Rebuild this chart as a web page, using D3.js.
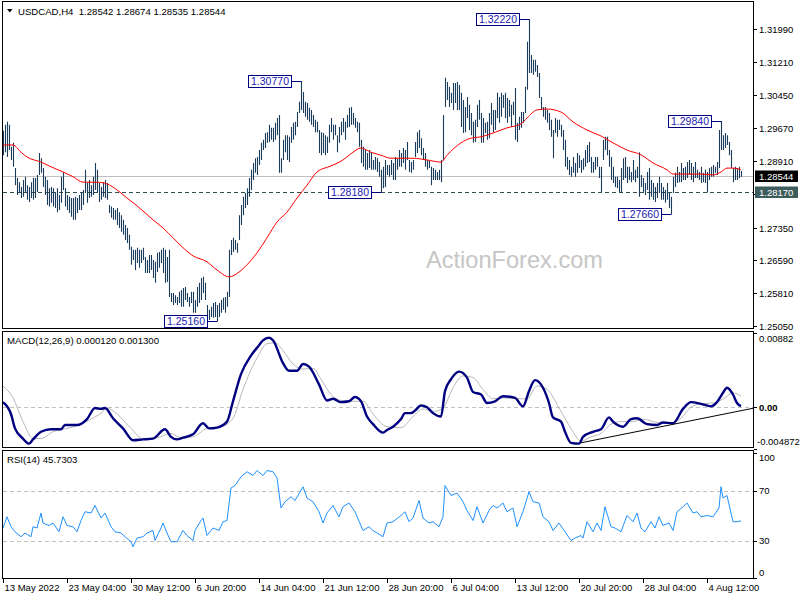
<!DOCTYPE html>
<html><head><meta charset="utf-8">
<script src="https://cdn.jsdelivr.net/npm/d3@7"></script>
<style>
body{margin:0;background:#fff}
svg{display:block}
text{font-family:"Liberation Sans",Arial,sans-serif}
</style>
</head><body>
<svg id="c" width="800" height="600"></svg>
<script>
// ---------- DATA ----------
const symbolTitle = "USDCAD,H4  1.28542 1.28674 1.28535 1.28544";
const macdTitle = "MACD(12,26,9) 0.000120 0.001300";
const rsiTitle = "RSI(14) 45.7303";
const watermark = "ActionForex.com";

const highs = [
1.2961,1.2975,1.2982,1.2975,1.2924,1.2933,1.2874,1.2851,1.2841,1.2830,
1.2846,1.2854,1.2834,1.2830,1.2841,1.2851,1.2851,1.2858,1.2909,1.2897,
1.2874,1.2854,1.2846,1.2827,1.2830,1.2827,1.2816,1.2827,1.2811,1.2854,
1.2865,1.2827,1.2811,1.2807,1.2804,1.2804,1.2807,1.2804,1.2811,1.2816,
1.2823,1.2870,1.2839,1.2846,1.2834,1.2854,1.2886,1.2870,1.2839,1.2830,
1.2841,1.2846,1.2839,1.2788,1.2784,1.2781,1.2776,1.2781,1.2771,1.2764,
1.2753,1.2741,1.2734,1.2718,1.2690,1.2683,1.2683,1.2688,1.2683,1.2683,
1.2688,1.2666,1.2659,1.2671,1.2671,1.2659,1.2655,1.2676,1.2678,1.2683,
1.2688,1.2683,1.2666,1.2683,1.2582,1.2582,1.2577,1.2573,1.2585,1.2589,
1.2594,1.2596,1.2582,1.2573,1.2585,1.2585,1.2566,1.2596,1.2606,1.2617,
1.2620,1.2606,1.2554,1.2543,1.2550,1.2559,1.2561,1.2554,1.2559,1.2566,
1.2571,1.2573,1.2585,1.2683,1.2706,1.2711,1.2706,1.2699,1.2764,1.2788,
1.2807,1.2816,1.2827,1.2851,1.2870,1.2886,1.2897,1.2900,1.2916,1.2933,
1.2940,1.2956,1.2958,1.2975,1.2968,1.2968,1.2980,1.2991,1.2998,1.2897,
1.2940,1.2951,1.2951,1.2947,1.2970,1.2980,1.2982,1.3005,1.3029,1.3077,
1.3052,1.3029,1.3026,1.3015,1.3010,1.2998,1.2987,1.2982,1.2963,1.2958,
1.2956,1.2951,1.2947,1.2975,1.2991,1.2975,1.2975,1.2951,1.2970,1.2982,
1.2991,1.2982,1.2998,1.3015,1.3017,1.3003,1.2991,1.2982,1.2980,1.2940,
1.2924,1.2916,1.2909,1.2916,1.2911,1.2893,1.2900,1.2897,1.2888,1.2870,
1.2877,1.2893,1.2881,1.2881,1.2893,1.2886,1.2900,1.2897,1.2916,1.2909,
1.2921,1.2916,1.2935,1.2893,1.2888,1.2893,1.2935,1.2958,1.2963,1.2944,
1.2921,1.2909,1.2893,1.2893,1.2877,1.2874,1.2870,1.2865,1.2870,1.2893,
1.2998,1.3085,1.3075,1.3064,1.3050,1.3073,1.3073,1.3075,1.3068,1.3050,
1.3033,1.3017,1.3040,1.3022,1.3003,1.2982,1.2987,1.3022,1.3033,1.3003,
1.2991,1.2980,1.2982,1.3003,1.3026,1.3010,1.3010,1.3050,1.3040,1.3050,
1.3045,1.3050,1.3038,1.3033,1.3022,1.3029,1.3061,1.2980,1.2994,1.3005,
1.3005,1.3064,1.3169,1.3222,1.3138,1.3127,1.3127,1.3115,1.3096,1.3040,
1.3017,1.3017,1.3010,1.3003,1.2987,1.2963,1.2991,1.2987,1.2987,1.2975,
1.2963,1.2940,1.2900,1.2893,1.2877,1.2900,1.2886,1.2909,1.2904,1.2893,
1.2897,1.2916,1.2928,1.2935,1.2900,1.2888,1.2900,1.2900,1.2877,1.2877,
1.2940,1.2947,1.2947,1.2916,1.2900,1.2877,1.2854,1.2854,1.2846,1.2874,
1.2897,1.2900,1.2877,1.2877,1.2865,1.2893,1.2870,1.2877,1.2911,1.2858,
1.2851,1.2839,1.2865,1.2874,1.2846,1.2839,1.2830,1.2839,1.2854,1.2839,
1.2830,1.2823,1.2839,1.2816,1.2807,1.2854,1.2863,1.2877,1.2865,1.2886,
1.2874,1.2877,1.2888,1.2893,1.2886,1.2877,1.2888,1.2870,1.2865,1.2877,
1.2863,1.2870,1.2865,1.2874,1.2877,1.2881,1.2877,1.2888,1.2963,1.2984,
1.2951,1.2956,1.2951,1.2935,1.2916,1.2874,1.2877,1.2874,1.2877,1.28674];

const lows = [
1.2904,1.2911,1.2900,1.2916,1.2893,1.2877,1.2834,1.2811,1.2816,1.2804,
1.2807,1.2818,1.2800,1.2795,1.2804,1.2800,1.2804,1.2818,1.2858,1.2863,
1.2830,1.2811,1.2788,1.2784,1.2793,1.2784,1.2781,1.2771,1.2776,1.2793,
1.2823,1.2784,1.2776,1.2769,1.2760,1.2753,1.2753,1.2769,1.2776,1.2776,
1.2788,1.2816,1.2793,1.2804,1.2807,1.2811,1.2823,1.2818,1.2795,1.2800,
1.2807,1.2804,1.2800,1.2769,1.2758,1.2753,1.2753,1.2741,1.2734,1.2725,
1.2718,1.2706,1.2699,1.2683,1.2648,1.2659,1.2636,1.2652,1.2641,1.2652,
1.2659,1.2629,1.2629,1.2629,1.2636,1.2617,1.2606,1.2631,1.2641,1.2652,
1.2629,1.2606,1.2608,1.2573,1.2561,1.2554,1.2559,1.2554,1.2559,1.2550,
1.2550,1.2566,1.2561,1.2550,1.2559,1.2536,1.2536,1.2550,1.2559,1.2566,
1.2582,1.2566,1.2524,1.2519,1.2526,1.2524,1.2526,1.2516,1.2526,1.2536,
1.2543,1.2536,1.2550,1.2573,1.2671,1.2678,1.2683,1.2676,1.2706,1.2741,
1.2764,1.2781,1.2788,1.2807,1.2823,1.2846,1.2863,1.2858,1.2881,1.2893,
1.2916,1.2921,1.2933,1.2935,1.2940,1.2935,1.2940,1.2951,1.2863,1.2863,
1.2893,1.2911,1.2893,1.2888,1.2933,1.2940,1.2951,1.2970,1.3003,1.3010,
1.3003,1.2994,1.2987,1.2982,1.2975,1.2970,1.2958,1.2958,1.2909,1.2904,
1.2909,1.2904,1.2909,1.2933,1.2958,1.2940,1.2951,1.2911,1.2933,1.2951,
1.2958,1.2940,1.2968,1.2970,1.2975,1.2975,1.2968,1.2958,1.2924,1.2886,
1.2877,1.2870,1.2870,1.2874,1.2870,1.2870,1.2870,1.2865,1.2854,1.2818,
1.2827,1.2830,1.2858,1.2854,1.2858,1.2846,1.2846,1.2870,1.2877,1.2877,
1.2886,1.2870,1.2893,1.2865,1.2863,1.2870,1.2900,1.2909,1.2921,1.2904,
1.2893,1.2877,1.2870,1.2874,1.2834,1.2846,1.2846,1.2846,1.2846,1.2841,
1.2893,1.3017,1.3033,1.3017,1.3026,1.3010,1.3026,1.3010,1.3010,1.2970,
1.2956,1.2958,1.2991,1.2963,1.2951,1.2933,1.2935,1.2970,1.2987,1.2933,
1.2933,1.2956,1.2940,1.2944,1.2975,1.2958,1.2963,1.2991,1.2980,1.2994,
1.3015,1.2991,1.2980,1.2994,1.2970,1.2998,1.2940,1.2935,1.2963,1.2968,
1.2980,1.3003,1.3057,1.3096,1.3096,1.3092,1.3099,1.3087,1.3038,1.3010,
1.2994,1.2987,1.2980,1.2963,1.2947,1.2897,1.2956,1.2947,1.2963,1.2947,
1.2916,1.2877,1.2870,1.2858,1.2854,1.2863,1.2854,1.2863,1.2874,1.2863,
1.2870,1.2877,1.2886,1.2888,1.2863,1.2863,1.2870,1.2877,1.2851,1.2818,
1.2893,1.2916,1.2904,1.2877,1.2846,1.2839,1.2830,1.2827,1.2818,1.2816,
1.2846,1.2851,1.2839,1.2846,1.2841,1.2846,1.2841,1.2851,1.2807,1.2830,
1.2818,1.2811,1.2823,1.2800,1.2807,1.2800,1.2795,1.2804,1.2816,1.2800,
1.2800,1.2793,1.2800,1.2781,1.2766,1.2816,1.2830,1.2839,1.2841,1.2841,
1.2846,1.2846,1.2851,1.2858,1.2846,1.2841,1.2851,1.2851,1.2846,1.2839,
1.2841,1.2839,1.2817,1.2846,1.2854,1.2854,1.2863,1.2858,1.2874,1.2916,
1.2916,1.2921,1.2928,1.2904,1.2874,1.2841,1.2846,1.2846,1.2851,1.28535];

// moving average (red), sampled at bar indices
const maIdx = [0,5,9,12,19,24,30,35,40,47,52,57,62,67,75,80,85,90,95,102,107,113,118,122,127,132,137,142,147,152,157,164,170,175,179,184,189,194,199,205,212,219,222,229,234,239,245,252,259,262,267,272,279,285,292,299,305,312,319,325,332,335,342,349,355,359,362,365,369];
const maVal = [1.2928,1.2928,1.2911,1.2900,1.2888,1.2877,1.2865,1.2854,1.2841,1.2841,1.2837,1.2823,1.2804,1.2786,1.2753,1.2734,1.2711,1.2688,1.2669,1.2655,1.2636,1.2620,1.2631,1.2648,1.2676,1.2711,1.2748,1.2771,1.2804,1.2834,1.2865,1.2879,1.2893,1.2911,1.2921,1.2911,1.2904,1.2897,1.2897,1.2897,1.2893,1.2888,1.2904,1.2933,1.2944,1.2947,1.2956,1.2968,1.2977,1.2991,1.3010,1.3012,1.3005,1.2982,1.2963,1.2949,1.2933,1.2916,1.2905,1.2886,1.2870,1.2860,1.2860,1.2860,1.2858,1.2865,1.2874,1.2874,1.2870];

// MACD main line
const macdIdx = [0,4,6,10,13,15,19,24,29,31,37,42,46,49,51,55,60,65,70,75,81,84,87,90,95,100,103,107,112,115,119,124,128,130,133,135,140,143,147,150,153,158,162,165,169,173,176,179,182,185,190,192,195,199,201,204,206,209,212,215,219,221,224,228,232,235,239,242,246,250,256,260,263,266,270,273,275,279,281,284,288,290,295,299,303,305,310,314,317,322,327,330,335,340,344,349,354,357,360,362,365,367,369];
const macdVal = [0.0006,-0.0008,-0.0025,-0.0037,-0.0043,-0.0038,-0.0029,-0.0026,-0.0026,-0.0021,-0.0021,-0.0014,-0.0001,-0.0002,-0.0001,-0.0013,-0.0025,-0.0039,-0.0038,-0.0037,-0.0026,-0.0035,-0.0038,-0.0036,-0.0032,-0.0019,-0.0025,-0.0024,-0.0017,0.0007,0.0039,0.0061,0.0073,0.0079,0.0082,0.0079,0.0052,0.0043,0.0043,0.0051,0.0048,0.0027,0.0008,0.0010,0.0006,0.0007,0.0012,0.0007,-0.0011,-0.0020,-0.0030,-0.0027,-0.0023,-0.0014,-0.0007,-0.0007,-0.0004,0.0002,0.0000,-0.0007,-0.0011,0.0019,0.0033,0.0042,0.0035,0.0018,0.0015,0.0005,0.0007,0.0013,0.0011,0.0001,0.0019,0.0032,0.0023,0.0005,-0.0012,-0.0017,-0.0029,-0.0042,-0.0043,-0.0035,-0.0029,-0.0026,-0.0012,-0.0017,-0.0023,-0.0014,-0.0013,-0.0020,-0.0021,-0.0018,-0.0019,-0.0002,0.0006,0.0004,0.0001,0.0006,0.0017,0.0023,0.0015,0.0005,0.00012];
// MACD signal line
const sigIdx = [0,5,10,15,19,25,32,38,44,49,52,57,64,70,77,84,89,95,102,109,115,120,127,132,136,140,145,150,155,159,164,169,175,180,185,192,199,205,210,215,220,225,230,235,240,245,250,257,262,267,272,279,284,289,294,299,304,309,315,320,327,334,339,344,349,355,361,365,369];
const sigVal = [0.0025,0.0011,-0.0017,-0.0037,-0.0037,-0.0029,-0.0025,-0.0021,-0.0014,-0.0007,-0.0001,-0.0008,-0.0025,-0.0037,-0.0036,-0.0031,-0.0036,-0.0035,-0.0025,-0.0023,-0.0013,0.0021,0.0058,0.0075,0.0076,0.0067,0.0051,0.0045,0.0046,0.0033,0.0015,0.0008,0.0007,0.0007,-0.0008,-0.0023,-0.0024,-0.0011,-0.0002,-0.0005,-0.0001,0.0023,0.0037,0.0035,0.0021,0.0010,0.0011,0.0010,0.0010,0.0025,0.0021,-0.0005,-0.0025,-0.0040,-0.0035,-0.0031,-0.0020,-0.0017,-0.0017,-0.0014,-0.0018,-0.0019,-0.0013,0.0000,0.0004,0.0005,0.0011,0.0017,0.0013];
// MACD trend line (drawn object)
const trendIdx = [289,375.5];
const trendVal = [-0.0042,-0.0001];

// RSI(14)
const rsiIdx = [0,2,4,6,9,11,14,15,17,19,20,23,25,28,30,32,35,37,39,41,44,46,49,51,54,56,59,61,64,65,67,70,72,75,76,79,80,82,84,87,90,92,95,96,99,100,102,105,108,110,112,114,116,119,122,125,127,130,132,135,137,139,141,144,146,150,152,155,158,160,162,165,168,170,173,176,180,183,185,190,192,195,199,201,203,205,208,210,213,215,218,220,221,224,227,230,232,235,237,240,243,245,247,250,252,255,257,260,263,265,268,270,273,275,278,281,284,286,289,290,292,295,297,299,301,304,306,309,312,315,317,319,321,324,326,328,330,333,335,337,340,342,345,347,349,352,355,358,359,360,362,365,367,369];
const rsiVal = [40,49,41,37,33,36,33,41,40,52,44,42,44,37,49,42,41,37,46,53,52,58,48,52,41,37,36,33,29,25,32,33,36,38,30,40,44,36,29,29,38,34,30,38,46,48,34,40,38,45,46,72,74,81,85,82,86,82,86,85,80,56,61,65,62,73,64,61,53,44,52,58,49,57,60,53,38,41,38,33,44,45,50,53,45,48,62,48,44,45,41,49,74,66,68,61,54,46,57,44,54,58,56,60,53,56,41,53,69,61,60,49,45,38,44,37,30,32,34,32,45,37,44,38,57,41,40,37,50,45,52,40,37,45,40,49,42,44,38,53,57,60,52,53,49,50,49,56,73,64,66,45,45,45.73];

// axis ticks
const priceTicks = [1.25050,1.25810,1.26590,1.27350,1.28130,1.28910,1.29670,1.30450,1.31210,1.31990];
const macdTickVals = [0.00882,0,-0.004872];
const macdTickLabels = ["0.00882","0.00","-0.004872"];
const rsiTickVals = [100,70,30,0];
const rsiLevels = [70,30];
const timeIdx = [0,32,64,96,128,160,192,224,256,288,320,352];
const timeLabels = ["13 May 2022","23 May 04:00","30 May 12:00","6 Jun 20:00","14 Jun 04:00","21 Jun 12:00","28 Jun 20:00","6 Jul 04:00","13 Jul 12:00","20 Jul 20:00","28 Jul 04:00","4 Aug 12:00"];

// swing high/low annotations
const annIdx = [149,107,263,189,334,359];
const annPrice = [1.30770,1.25160,1.32220,1.28180,1.27660,1.29840];

const lastPrice = 1.28544;
const supportLevel = 1.28170;

// ---------- DRAW ----------
const svg = d3.select("#c");
const nBars = highs.length;
const x = d3.scaleLinear().domain([0, 369]).range([3, 741]);
const yP = d3.scaleLinear().domain([1.2505, 1.3199]).range([326, 29]);
const yM = d3.scaleLinear().domain([-0.004872, 0.00882]).range([448.5, 332.5]);
const yR = d3.scaleLinear().domain([0, 100]).range([578, 453]);

const panels = [
  {id:"pP", y:1.5, h:327},
  {id:"pM", y:331.5, h:116},
  {id:"pR", y:450.5, h:128}
];
const defs = svg.append("defs");
panels.forEach(p => {
  defs.append("clipPath").attr("id", p.id)
    .append("rect").attr("x", 3).attr("y", p.y + 0.5).attr("width", 750).attr("height", p.h - 0.5);
});

svg.append("rect").attr("width", 800).attr("height", 600).attr("fill", "#fff");

// ---- price panel ----
const gP = svg.append("g").attr("clip-path", "url(#pP)");

gP.append("line").attr("x1", 3).attr("x2", 753)
  .attr("y1", Math.round(yP(lastPrice)) + 0.5).attr("y2", Math.round(yP(lastPrice)) + 0.5)
  .attr("stroke", "#c0c0c0").attr("stroke-width", 1);
gP.append("line").attr("x1", 3).attr("x2", 753)
  .attr("y1", Math.round(yP(supportLevel)) + 0.5).attr("y2", Math.round(yP(supportLevel)) + 0.5)
  .attr("stroke", "#2f4f4f").attr("stroke-width", 1).attr("stroke-dasharray", "4,3");

gP.append("g").selectAll("line").data(d3.range(nBars)).join("line")
  .attr("x1", i => x(i) + 0.5).attr("x2", i => x(i) + 0.5)
  .attr("y1", i => yP(highs[i])).attr("y2", i => yP(lows[i]))
  .attr("stroke", "#1b3d5b").attr("stroke-width", 1.1);

const maLine = d3.line().x((d, k) => x(maIdx[k])).y(d => yP(d)).curve(d3.curveMonotoneX);
gP.append("path").attr("d", maLine(maVal)).attr("fill", "none").attr("stroke", "#ff0000").attr("stroke-width", 1);

svg.append("text").attr("x", 514.5).attr("y", 268).attr("text-anchor", "middle")
  .attr("font-size", "23.6px").attr("fill", "#c6c6c6").text(watermark);

const fmt5 = d3.format(".5f");
const gA = svg.append("g");
annIdx.forEach((idx, k) => {
  const bx = x(idx) + 0.5;
  const by = Math.round(yP(annPrice[k])) + 0.5;
  gA.append("line").attr("x1", bx - 10).attr("x2", bx).attr("y1", by).attr("y2", by)
    .attr("stroke", "#000080").attr("stroke-width", 1);
  gA.append("rect").attr("x", bx - 53).attr("y", by - 6).attr("width", 43).attr("height", 12)
    .attr("fill", "#fff").attr("stroke", "#000080").attr("stroke-width", 1);
  gA.append("text").attr("x", bx - 31.5).attr("y", by).attr("dy", "0.36em").attr("text-anchor", "middle")
    .attr("font-size", "10.5px").attr("fill", "#2020b0").text(fmt5(annPrice[k]));
});

svg.append("path").attr("d", "M7,9 L12.5,9 L9.75,12.5 Z").attr("fill", "#000");
svg.append("text").attr("x", 18).attr("y", 14.5).attr("font-size", "9.6px").attr("fill", "#000")
  .style("white-space", "pre").text(symbolTitle);

// ---- MACD panel ----
const gM = svg.append("g").attr("clip-path", "url(#pM)");
gM.append("line").attr("x1", 3).attr("x2", 753)
  .attr("y1", Math.round(yM(0)) + 0.5).attr("y2", Math.round(yM(0)) + 0.5)
  .attr("stroke", "#c0c0c0").attr("stroke-dasharray", "4,3");
const sigLine = d3.line().x((d, k) => x(sigIdx[k])).y(d => yM(d)).curve(d3.curveMonotoneX);
gM.append("path").attr("d", sigLine(sigVal)).attr("fill", "none").attr("stroke", "#b8b8b8").attr("stroke-width", 1);
const macdLine = d3.line().x((d, k) => x(macdIdx[k])).y(d => yM(d)).curve(d3.curveMonotoneX);
gM.append("path").attr("d", macdLine(macdVal)).attr("fill", "none").attr("stroke", "#000080").attr("stroke-width", 2.4);
gM.append("line").attr("x1", x(trendIdx[0])).attr("y1", yM(trendVal[0]))
  .attr("x2", x(trendIdx[1])).attr("y2", yM(trendVal[1]))
  .attr("stroke", "#000").attr("stroke-width", 1);
svg.append("text").attr("x", 7).attr("y", 344).attr("font-size", "9.6px").text(macdTitle);

// ---- RSI panel ----
const gR = svg.append("g").attr("clip-path", "url(#pR)");
rsiLevels.forEach(v => {
  gR.append("line").attr("x1", 3).attr("x2", 753)
    .attr("y1", Math.round(yR(v)) + 0.5).attr("y2", Math.round(yR(v)) + 0.5)
    .attr("stroke", "#c0c0c0").attr("stroke-dasharray", "4,3");
});
const rsiLine = d3.line().x((d, k) => x(rsiIdx[k])).y(d => yR(d));
gR.append("path").attr("d", rsiLine(rsiVal)).attr("fill", "none").attr("stroke", "#1e90ff").attr("stroke-width", 1);
svg.append("text").attr("x", 7).attr("y", 463).attr("font-size", "9.6px").text(rsiTitle);

// ---- frames ----
panels.forEach(p => {
  svg.append("rect").attr("x", 2.5).attr("y", p.y).attr("width", 751).attr("height", p.h)
    .attr("fill", "none").attr("stroke", "#000").attr("stroke-width", 1);
});

// ---- right axes ----
const gY = svg.append("g").attr("font-size", "9.5px");
const tagYs = [yP(lastPrice), yP(supportLevel)];
priceTicks.forEach(p => {
  const yy = Math.round(yP(p)) + 0.5;
  gY.append("line").attr("x1", 754).attr("x2", 757).attr("y1", yy).attr("y2", yy).attr("stroke", "#000");
  // labels hidden behind a price tag are not drawn (as in the terminal)
  if (tagYs.every(t => Math.abs(t - yy) > 9)) {
    gY.append("text").attr("x", 759).attr("y", yy).attr("dy", "0.35em").text(fmt5(p));
  }
});
function clampLabel(v, top, bottom) { return Math.max(top + 7.5, Math.min(bottom - 5.5, v)); }
macdTickVals.forEach((v, k) => {
  const yy = yM(v);
  gY.append("line").attr("x1", 754).attr("x2", 757).attr("y1", Math.round(yy) + 0.5).attr("y2", Math.round(yy) + 0.5).attr("stroke", "#000");
  const ly = clampLabel(yy, 331.5, 447.5);
  gY.append("text").attr("x", v < 0 ? 757 : 759).attr("y", ly).attr("dy", "0.35em")
    .attr("font-weight", v === 0 ? "bold" : "normal").text(macdTickLabels[k]);
});
rsiTickVals.forEach(v => {
  const yy = yR(v);
  gY.append("line").attr("x1", 754).attr("x2", 757).attr("y1", Math.round(yy) + 0.5).attr("y2", Math.round(yy) + 0.5).attr("stroke", "#000");
  gY.append("text").attr("x", 759).attr("y", clampLabel(yy, 450.5, 578.5)).attr("dy", "0.35em").text(String(v));
});

[[lastPrice, "#000000"], [supportLevel, "#3d5c5c"]].forEach(([p, col]) => {
  const yy = Math.round(yP(p)) + 0.5;
  svg.append("rect").attr("x", 755).attr("y", yy - 6).attr("width", 43).attr("height", 11.5).attr("fill", col);
  svg.append("text").attr("x", 759).attr("y", yy).attr("dy", "0.35em").attr("font-size", "9.5px")
    .attr("fill", "#fff").text(fmt5(p));
});

// ---- time axis ----
const gX = svg.append("g").attr("font-size", "9.5px");
timeIdx.forEach((idx, k) => {
  const xx = x(idx) + 0.5;
  gX.append("line").attr("x1", xx).attr("x2", xx).attr("y1", 579).attr("y2", 583).attr("stroke", "#000");
  gX.append("text").attr("x", xx + 1).attr("y", 591).text(timeLabels[k]);
});
</script>
</body></html>
